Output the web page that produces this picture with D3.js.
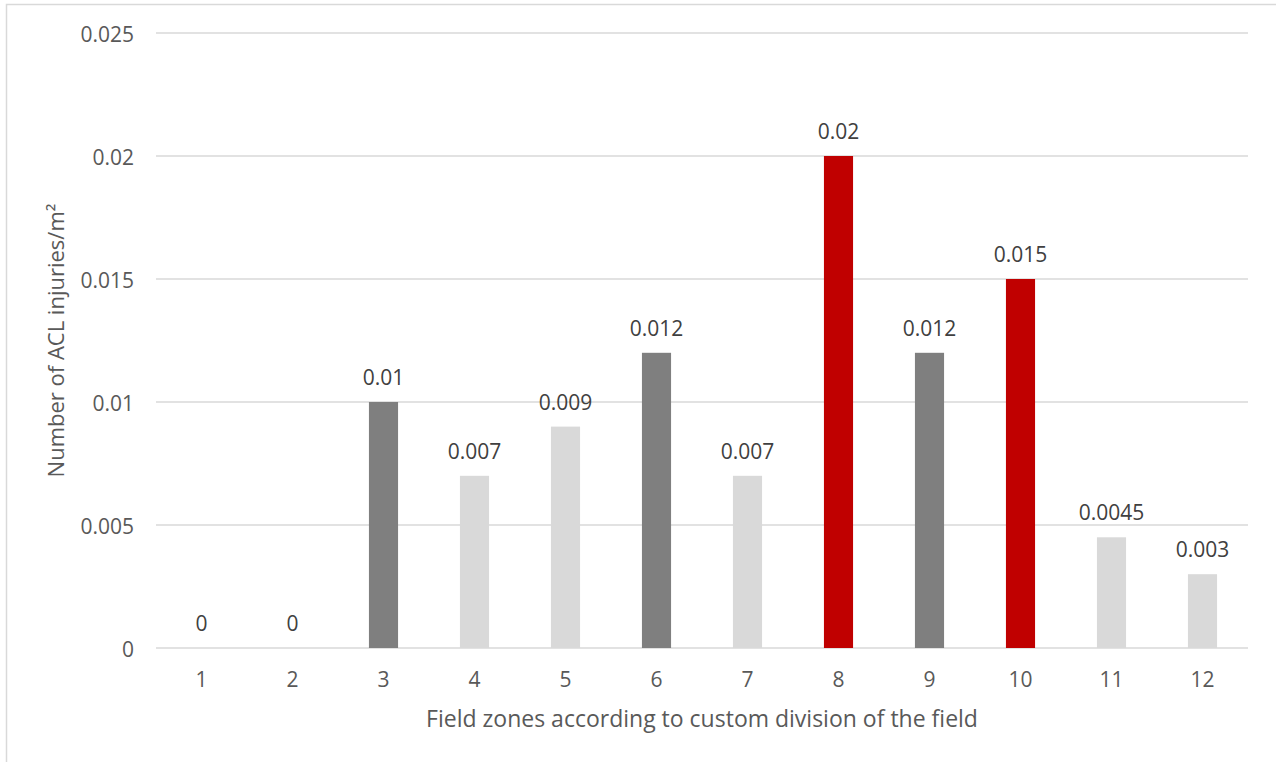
<!DOCTYPE html>
<html>
<head>
<meta charset="utf-8">
<script src="https://cdn.jsdelivr.net/npm/d3@7"></script>
<style>
  html, body { margin: 0; padding: 0; background: #fff; }
  svg { display: block; font-family: "Open Sans", sans-serif; }
</style>
</head>
<body>
<svg id="chart" width="1276" height="762"></svg>
<script>
// Field zones and ACL injury density per zone
const zones = ["1", "2", "3", "4", "5", "6", "7", "8", "9", "10", "11", "12"];
const injuries = [0, 0, 0.01, 0.007, 0.009, 0.012, 0.007, 0.02, 0.012, 0.015, 0.0045, 0.003];
const valueLabels = ["0", "0", "0.01", "0.007", "0.009", "0.012", "0.007", "0.02", "0.012", "0.015", "0.0045", "0.003"];
const shade = ["light", "light", "dark", "light", "light", "dark", "light", "red", "dark", "red", "light", "light"];
const yTicks = [0, 0.005, 0.01, 0.015, 0.02, 0.025];
const yTickLabels = ["0", "0.005", "0.01", "0.015", "0.02", "0.025"];

const palette = { light: "#d9d9d9", dark: "#7f7f7f", red: "#c00000" };

const svg = d3.select("#chart");
const plotLeft = 156, plotRight = 1248, plotTop = 33, plotBottom = 648;

// outer frame
svg.append("rect")
  .attr("x", 6.5).attr("y", 4.5)
  .attr("width", 1280).attr("height", 800)
  .attr("fill", "none").attr("stroke", "#d9d9d9").attr("stroke-width", 1.5);

const x = d3.scaleBand().domain(zones).range([plotLeft, plotRight]).paddingInner(0.68).paddingOuter(0.34);
const y = d3.scaleLinear().domain([0, 0.025]).range([plotBottom, plotTop]);

// horizontal gridlines
svg.append("g").selectAll("line").data(yTicks).join("line")
  .attr("x1", plotLeft).attr("x2", plotRight)
  .attr("y1", d => y(d)).attr("y2", d => y(d))
  .attr("stroke", "#d9d9d9").attr("stroke-width", 1.3);

// y axis tick labels
const yAxis = d3.axisLeft(y).tickValues(yTicks).tickSize(0).tickPadding(0)
  .tickFormat((d, i) => yTickLabels[i]);
const gy = svg.append("g").attr("transform", `translate(134,0)`).call(yAxis);
gy.select(".domain").remove();
gy.selectAll("text").attr("fill", "#595959").style("font-size", "21px")
  .style("font-family", "'Open Sans', sans-serif").attr("dy", "0.4em");

// x axis tick labels
const xAxis = d3.axisBottom(x).tickSize(0).tickPadding(0);
const gx = svg.append("g").attr("transform", `translate(0,687)`).call(xAxis);
gx.select(".domain").remove();
gx.selectAll("text").attr("fill", "#595959").style("font-size", "21px")
  .style("font-family", "'Open Sans', sans-serif").attr("dy", "0");

// bars
svg.append("g").selectAll("rect").data(zones).join("rect")
  .attr("x", d => x(d))
  .attr("width", x.bandwidth())
  .attr("y", (d, i) => y(injuries[i]))
  .attr("height", (d, i) => plotBottom - y(injuries[i]))
  .attr("fill", (d, i) => palette[shade[i]]);

// data labels
svg.append("g").selectAll("text").data(zones).join("text")
  .attr("x", d => x(d) + x.bandwidth() / 2)
  .attr("y", (d, i) => y(injuries[i]) - 17)
  .attr("text-anchor", "middle")
  .attr("fill", "#404040")
  .style("font-size", "21px")
  .text((d, i) => valueLabels[i]);

// axis titles
svg.append("text")
  .attr("x", 702).attr("y", 727)
  .attr("text-anchor", "middle").attr("fill", "#595959")
  .style("font-size", "23px")
  .text("Field zones according to custom division of the field");

svg.append("text")
  .attr("transform", `translate(64,${(plotTop + plotBottom) / 2}) rotate(-90)`)
  .attr("text-anchor", "middle").attr("fill", "#595959")
  .style("font-size", "22px")
  .text("Number of ACL injuries/m²");
</script>
</body>
</html>
